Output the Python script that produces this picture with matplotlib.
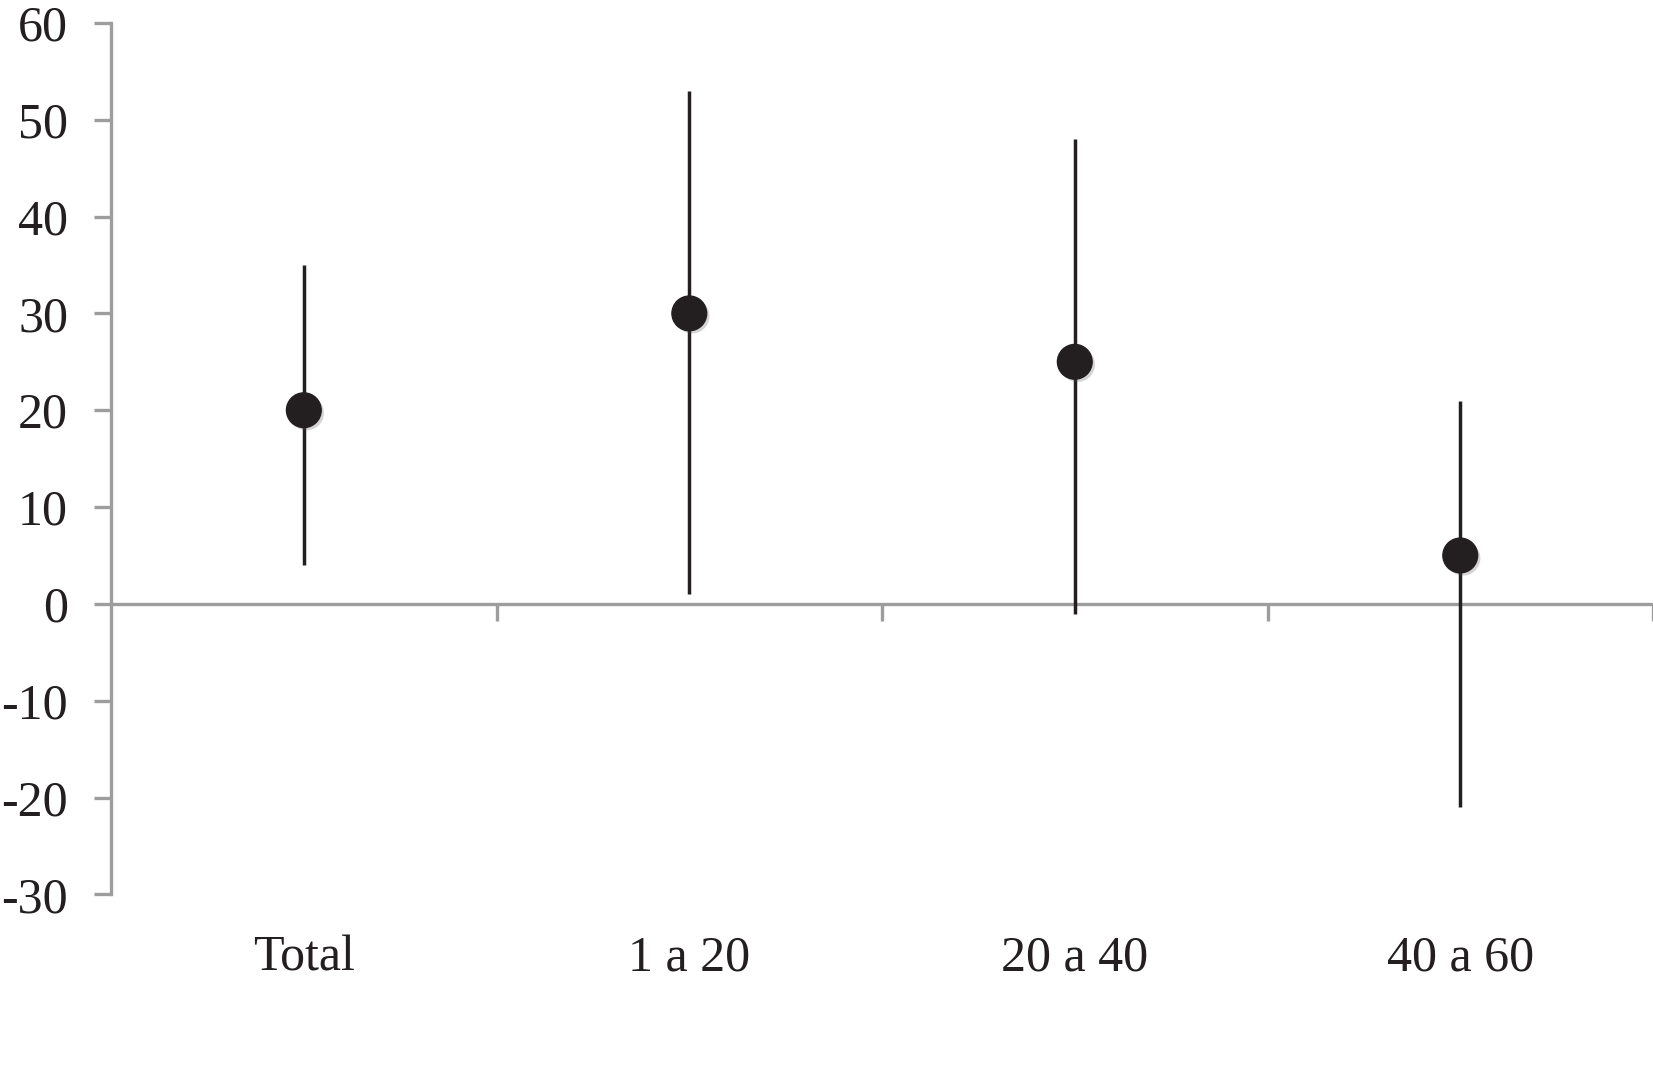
import numpy as np
import matplotlib
matplotlib.use('Agg')
import matplotlib.pyplot as plt
import matplotlib.patheffects as pe

categorias = ['Total', '1 a 20', '20 a 40', '40 a 60']
media = np.array([20, 30, 25, 5])
minimo = np.array([4, 1, -1, -21])
maximo = np.array([35, 53, 48, 21])
yticks = [-30, -20, -10, 0, 10, 20, 30, 40, 50, 60]

plt.rcParams['font.family'] = ['Liberation Serif', 'DejaVu Serif']
gris = '#9d9d9d'
negro = '#231f20'

fig = plt.figure(figsize=(16.53, 10.92), dpi=100)
ax = fig.add_axes([0.0672, 0.181, 0.9328, 0.798])

x = np.arange(len(categorias))
err = [media - minimo, maximo - media]
ax.errorbar(x, media, yerr=err, fmt='none', ecolor=negro, elinewidth=2.5, capsize=0, zorder=3)
ax.plot(x, media, 'o', color=negro, markersize=25, zorder=4,
        path_effects=[pe.SimplePatchShadow(offset=(2, -2), alpha=0.25, shadow_rgbFace='#555555'), pe.Normal()])

ax.set_xlim(-0.5, 3.5)
ax.set_ylim(-30, 60)
ax.set_yticks(yticks)
ax.set_yticklabels([str(v) for v in yticks], fontsize=36, color=negro)
ax.set_xticks(x)
ax.set_xticklabels(categorias, fontsize=36, color=negro)
ax.tick_params(axis='x', length=0, pad=29)
ax.tick_params(axis='y', length=12, width=2.4, color=gris, pad=19, direction='out')

for s in ['top', 'right', 'bottom']:
    ax.spines[s].set_visible(False)
ax.spines['left'].set_color(gris)
ax.spines['left'].set_linewidth(2.4)

# eje horizontal en cero
sec = ax.secondary_xaxis(1/3)
sec.set_xticks([0.5, 1.5, 2.5, 3.5])
sec.set_xticklabels([])
sec.tick_params(length=12, width=2.4, color=gris, direction='out')
sec.spines['bottom'].set_color(gris)
sec.spines['bottom'].set_linewidth(2.4)

fig.savefig('out.png', dpi=100)
